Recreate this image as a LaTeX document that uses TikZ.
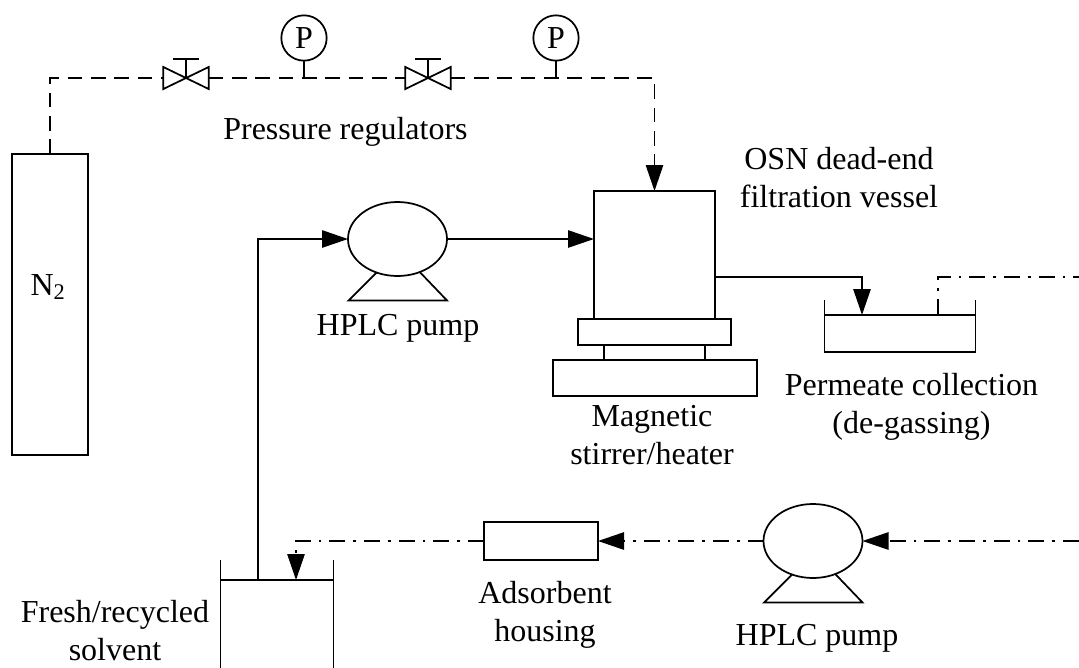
\documentclass[tikz,border=0pt]{standalone}
\usepackage{xcolor}
\usepackage{fontspec}
\setmainfont{Liberation Serif}
\usetikzlibrary{shapes.geometric, arrows.meta, positioning}
\tikzset{
  box/.style={draw, rectangle, inner sep=0pt, outer sep=0pt},
  label/.style={font=\fontsize{24}{28.5}\selectfont, inner sep=0pt, align=center},
  gauge/.style={draw, circle, inner sep=0pt, outer sep=0pt, minimum size=34pt, font=\fontsize{24}{24}\selectfont},
  valve/.style={rectangle, inner sep=0pt, outer sep=0pt, minimum width=34pt, minimum height=16.5pt},
  pump/.style={draw, ellipse, inner sep=0pt, outer sep=0pt, minimum width=74.25pt, minimum height=55.5pt},
  flow/.style={-{Triangle[length=19.5pt,width=13pt]}},
  gasline/.style={dash pattern=on 11pt off 6.5pt},
  recycleline/.style={dash pattern=on 12pt off 6pt on 2pt off 6pt}
}
\begin{document}
\begin{tikzpicture}[x=0.75pt, y=-0.75pt, line width=1.3pt]
  \useasboundingbox (0,0) rectangle (1079,668);

  % Gas supply
  \node[box, minimum width=57pt, minimum height=226pt] (cylinder) at (50.3,304.5) {};
  \node[label, anchor=base] (cylinderlabel) at (48,295) {N\textsubscript{2}};

  % Pressure regulators
  \node[valve] (valveone) at (186,78) {};
  \node[valve] (valvetwo) at (428,78) {};
  \node[gauge] (gaugeone) at (304,38) {P};
  \node[gauge] (gaugetwo) at (556,38) {P};
  \node[label, anchor=base] (regulatorlabel) at (345.5,139) {Pressure regulators};
  \foreach \v in {valveone, valvetwo} {
    \draw (\v.north west) -- (\v.south east) -- (\v.north east) -- (\v.south west) -- cycle;
    \draw (\v.center) -- ++(0,-19) coordinate (\v top);
    \draw ([xshift=-9.75pt]\v top) -- ([xshift=9.75pt]\v top);
  }
  \draw (gaugeone.south) -- (gaugeone.south |- valveone.center);
  \draw (gaugetwo.south) -- (gaugetwo.south |- valveone.center);

  % Vessel and stirrer
  \node[box, minimum width=90.75pt, minimum height=96pt] (vessel) at (654.5,255) {};
  \node[box, minimum width=114.75pt, minimum height=19.5pt] (plate) at (654.5,332) {};
  \node[box, minimum width=76pt, minimum height=11.25pt] (neck) at (654.5,352.5) {};
  \node[box, minimum width=153pt, minimum height=27pt] (base) at (655,378) {};
  \node[label] (vessellabel) at (839,178) {OSN dead-end\\filtration vessel};
  \node[label] (stirrerlabel) at (652,435) {Magnetic\\stirrer/heater};

  % Pumps
  \node[pump] (pumpone) at (397.5,239) {};
  \node[pump] (pumptwo) at (813,541) {};
  \foreach \p in {pumpone, pumptwo} {
    \draw (\p.238) -- ++(-28,28) -- ++(98.5,0) -- (\p.304);
  }
  \node[label, anchor=base] (pumponelabel) at (398,335.5) {HPLC pump};
  \node[label, anchor=base] (pumptwolabel) at (817,645) {HPLC pump};

  % Permeate tray
  \node[rectangle, draw, inner sep=0pt, outer sep=0pt, minimum width=113.2pt, minimum height=27.75pt] (permeate) at (900,333.5) {};
  \draw (permeate.north west) -- ++(0,-15);
  \draw (permeate.north east) -- ++(0,-15);
  \node[label] (permeatelabel) at (911.5,407) {Permeate collection\\(de-gassing)};

  % Solvent tray
  \node[rectangle, inner sep=0pt, outer sep=0pt, minimum width=84.75pt, minimum height=66pt] (solvent) at (277,624) {};
  \draw (solvent.north west) -- (solvent.north east);
  \draw (solvent.north west) ++(0,-20) -- (solvent.south west);
  \draw (solvent.north east) ++(0,-20) -- (solvent.south east);
  \node[label] (solventlabel) at (115,631) {Fresh/recycled\\solvent};

  % Adsorbent
  \node[box, minimum width=85.5pt, minimum height=28.5pt] (housing) at (541,541) {};
  \node[label] (housinglabel) at (545,615) {Adsorbent\\housing};

  % Free ends and bends
  \coordinate (outlet) at (715,277);
  \coordinate (permeatein) at (862,315);
  \coordinate (permeateout) at (938,315);
  \coordinate (recycleend) at (1079,277);
  \coordinate (recyclestart) at (1079,541);
  \coordinate (solventout) at (258,580);
  \coordinate (solventin) at (296,580);

  % Gas lines
  \draw[gasline] (cylinder.north) -- (cylinder.north |- valveone.west) -- (valveone.west);
  \draw[gasline] (valveone.east) -- (valvetwo.west);
  \draw[gasline, flow] (valvetwo.east) -- (vessel.north |- valvetwo.east) -- (vessel.north);

  % Liquid lines
  \draw[flow] (solventout) |- (pumpone.west);
  \draw[flow] (pumpone.east) -- (vessel.west |- pumpone.east);
  \draw[flow] (outlet) -| (permeatein);

  % Recycle lines
  \draw[recycleline] (permeateout) |- (recycleend);
  \draw[recycleline, flow] (recyclestart) -- (pumptwo.east);
  \draw[recycleline, flow] (pumptwo.west) -- (housing.east);
  \draw[recycleline, flow] (housing.west) -| (solventin);
\end{tikzpicture}
\end{document}
